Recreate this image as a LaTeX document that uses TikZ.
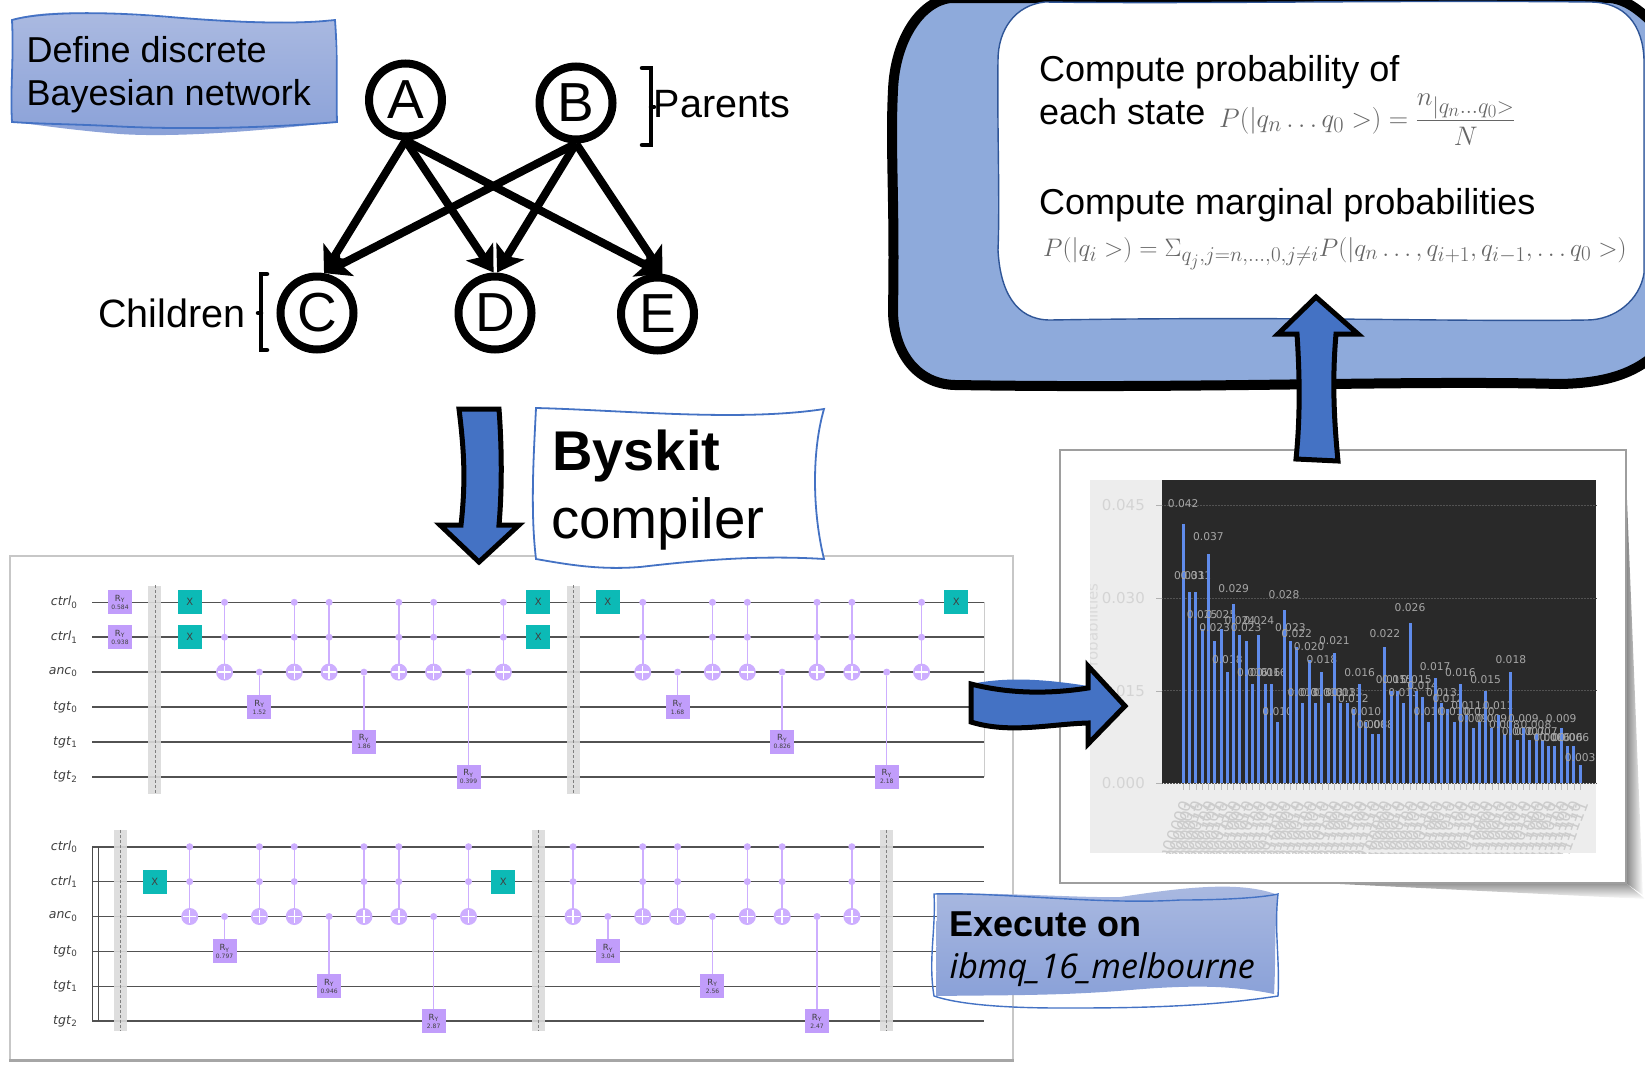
\documentclass[tikz,border=0pt]{standalone}
\usepackage{fontspec}
\usetikzlibrary{arrows.meta}
\newfontfamily\pptfont{Liberation Sans}
\newfontfamily\pltfont{DejaVu Sans}
\newfontfamily\ibmfont{Open Sans}
\definecolor{boxtop}{HTML}{ABBAE1}
\definecolor{boxbot}{HTML}{8AA1D8}
\definecolor{boxline}{HTML}{4472C4}
\definecolor{panelblue}{HTML}{8EAADB}
\definecolor{innerline}{HTML}{2F5597}
\definecolor{arrowblue}{HTML}{4472C4}
\definecolor{gatepurple}{HTML}{C19DFB}
\definecolor{ctrlpurple}{HTML}{CDAEFF}
\definecolor{gateteal}{HTML}{0CBAB6}
\definecolor{barblue}{HTML}{5F8BEA}
\tikzset{
    bnnode/.style={circle,draw,fill=white,line width=8pt,minimum size=73pt,inner sep=0pt,font=\pptfont\fontsize{55}{55}\selectfont},
    bnedge/.style={line width=8pt,-{Stealth[length=25pt,width=32pt,inset=6pt]}},
    brack/.style={line width=4.5pt,line cap=round},
    sans/.style={inner sep=0pt,anchor=base west,font=\pptfont\fontsize{#1}{#1}\selectfont},
    wavy/.style={draw=boxline,line width=1.8pt},
    blockarrow/.style={draw=black,line width=5pt,fill=arrowblue,miter limit=4},
    formula/.style={inner sep=0pt,anchor=base west,text=black!60,font=\fontsize{#1}{#1}\selectfont},
    wire/.style={draw=black!68,line width=1.6pt},
    wirelabel/.style={anchor=east,inner xsep=14.5pt,inner ysep=0pt,text=black!75,font=\pltfont\fontsize{12.5}{12.5}\selectfont},
    barrier/.style={rectangle,fill=black!14,fill opacity=.9,minimum width=13pt,inner sep=0pt},
    rygate/.style={rectangle,fill=gatepurple,minimum width=24pt,minimum height=24pt,inner sep=0pt,align=center,text=black!75,font=\pltfont\fontsize{8.5}{9}\selectfont},
    xgate/.style={rectangle,fill=gateteal,minimum width=24pt,minimum height=24pt,inner sep=0pt,text=black!75,font=\pltfont\fontsize{10}{10}\selectfont},
    dotgate/.style={circle,fill=ctrlpurple,minimum size=7pt,inner sep=0pt},
    cxgate/.style={circle,fill=ctrlpurple,minimum size=17pt,inner sep=0pt,path picture={
        \draw[white,line width=1.4pt] ([yshift=-2pt]path picture bounding box.north)--([yshift=2pt]path picture bounding box.south);
        \draw[white,line width=1.4pt] ([xshift=2pt]path picture bounding box.west)--([xshift=-2pt]path picture bounding box.east);}},
    ctrl/.style={draw=ctrlpurple,line width=1.5pt},
    barlabel/.style={inner sep=0pt,text=black!35,font=\pltfont\fontsize{10.7}{11}\selectfont},
    ticklabel/.style={anchor=east,inner sep=0pt,text=black!17,font=\pltfont\fontsize{15}{15}\selectfont}
}
\newcommand{\ccxat}[1]{
    \draw[ctrl] (#1,0)--(#1,2);
    \node[dotgate] (p#1) at (#1,0) {};
    \node[dotgate] (q#1) at (#1,1) {};
    \node[cxgate] (r#1) at (#1,2) {};
}
\newcommand{\rytext}[1]{R\textsubscript{Y}\\[-1pt]{\fontsize{6}{6}\selectfont #1}}
\newcommand{\ryat}[3]{
    \node[dotgate] (s#1) at (#1,2) {};
    \node[rygate] (t#1) at (#1,#2) {\rytext{#3}};
    \draw[ctrl] (s#1) -- (t#1);
}
\newcommand{\barrierat}[3]{
    \node[barrier,minimum height=#3pt] (b#1) at (#1,#2) {};
    \draw[black!50,densely dashed,line width=.7pt] (b#1.north) -- (b#1.south);
}
\newcommand{\wiresat}{
    \foreach \w/\t/\s in {0/ctrl/0,1/ctrl/1,2/anc/0,3/tgt/0,4/tgt/1,5/tgt/2}{
        \node[wirelabel] (l\w) at (-0.8,\w) {\textit{\t}\textsubscript{\s}};
        \coordinate (e\w) at (24.8,\w);
        \draw[wire] (l\w.east) -- (e\w);
    }
}
\def\stripbit#1#2\relax{#2}

\begin{document}
\begin{tikzpicture}[x=1pt,y=-1pt]
    \useasboundingbox (0,0) rectangle (1645,1071);

    % network
    \shade[top color=boxtop,bottom color=boxbot] (12,20) .. controls (40,10) and (80,12) .. (130,15) .. controls (200,20) and (280,24) .. (335,21) -- (337,122) .. controls (270,130) and (180,138) .. (120,134) .. controls (70,130) and (40,125) .. (12,122) -- cycle;
    \draw[wavy] (12,20) .. controls (40,12) and (100,11) .. (170,17) .. controls (230,22) and (290,25) .. (335,20) .. controls (338,60) and (336,90) .. (337,122) .. controls (270,128) and (180,130) .. (110,126) .. controls (70,124) and (40,124) .. (12,122) .. controls (10,90) and (14,60) .. (12,20) -- cycle;
    \node[sans=36] (define1) at (26.5,62.5) {Define discrete};
    \node[sans=36] (define2) at (26.5,105.5) {Bayesian network};

    \node[bnnode] (A) at (405.5,100) {A};
    \node[bnnode] (B) at (576,103) {B};
    \node[bnnode] (C) at (317,313) {C};
    \node[bnnode] (D) at (495,313) {D};
    \node[bnnode] (E) at (657.5,314) {E};
    \foreach \p/\d in {A/92,B/87}{
        \foreach \c in {C.80,D.\d,E.83}{
            \draw[bnedge] (\p.south) -- (\c);
        }
    }
    \draw[brack] (642,68)--(651,68)--(651,145)--(642,145);
    \draw[brack] (651,107)--(654,107);
    \draw[brack] (267,274)--(261,274)--(261,350)--(267,350);
    \draw[brack] (261,313)--(258,313);
    \node[sans=39.5] (parents) at (653.5,117) {Parents};
    \node[sans=39.5] (children) at (98,327) {Children};

    % circuit
    \fill[white] (10,556) rectangle (1013,1060);
    \draw[black!22,line width=2pt] (10,1060)--(10,556)--(1013,556)--(1013,1060);
    \draw[black!35,line width=3pt] (9,1060)--(1014,1060);

    \begin{scope}[shift={(120,602.3)},x=34.85pt,y=-34.9pt,name prefix=top-]
        \wiresat
        \draw[black!20,line width=.7pt] (e0) -- (e5);
        \barrierat{1}{2.5}{208}
        \barrierat{13}{2.5}{208}
        \node[rygate] (g0) at (0,0) {\rytext{0.584}};
        \node[rygate] (g1) at (0,1) {\rytext{0.938}};
        \foreach \k/\w in {2/0,2/1,12/0,12/1,14/0,24/0}{
            \node[xgate] (x\k\w) at (\k,\w) {X};
        }
        \foreach \k in {3,5,6,8,9,11,15,17,18,20,21,23}{
            \ccxat{\k}
        }
        \foreach \k/\w/\v in {4/3/1.52,7/4/1.86,10/5/0.399,16/3/1.68,19/4/0.826,22/5/2.18}{
            \ryat{\k}{\w}{\v}
        }
    \end{scope}

    \begin{scope}[shift={(120,846.7)},x=34.85pt,y=-34.9pt,name prefix=bot-]
        \wiresat
        \draw[black!70,line width=1.2pt] (l0.east) -- (l5.east);
        \draw[black!70,line width=1.2pt] ([xshift=6.5pt]l0.east) -- ([xshift=6.5pt]l5.east);
        \barrierat{0}{2.4}{201}
        \barrierat{12}{2.4}{201}
        \barrierat{22}{2.4}{201}
        \foreach \k in {1,11}{
            \node[xgate] (x\k) at (\k,1) {X};
        }
        \foreach \k in {2,4,5,7,8,10,13,15,16,18,19,21}{
            \ccxat{\k}
        }
        \foreach \k/\w/\v in {3/3/0.797,6/4/0.946,9/5/2.87,14/3/3.04,17/4/2.56,20/5/2.47}{
            \ryat{\k}{\w}{\v}
        }
    \end{scope}

    % results
    \shade[left color=black!45,right color=white] (1627,500)--(1643,895)--(1627,884)--cycle;
    \shade[top color=black!40,bottom color=white] (1340,884)--(1627,884)--(1645,899)--cycle;
    \draw[black!38,fill=white,line width=2.5pt] (1060,450) rectangle (1626,883);
    \fill[black!7] (1090,480) rectangle (1596,853);
    \fill[black!84] (1162,480) rectangle (1596,783.3);
    \begin{scope}
        \clip (1090,480) rectangle (1110,853);
        \node[rotate=90,inner sep=0pt,anchor=east,text=black!15,font=\pltfont\fontsize{15}{15}\selectfont] (ylab) at (1092,583) {Probabilities};
    \end{scope}
    \foreach \y/\t [count=\n] in {505/0.045,598.3/0.030,690.7/0.015,783.3/0.000}{
        \node[ticklabel] (tick\n) at (1145,\y) {\t};
        \coordinate (grid\n) at (1596,\y);
        \draw[black!30] (1156,\y) -- (1162,\y);
        \draw[black!68,densely dotted,line width=.5pt] (1162,\y) -- (grid\n);
    }
    \begin{scope}
        \clip (1162,480) rectangle (1596,853);
        \foreach \v [count=\i from 0] in {0.042,0.031,0.031,0.025,0.037,0.023,0.025,0.018,0.029,0.024,0.023,0.016,0.024,0.016,0.016,0.010,0.028,0.023,0.022,0.013,0.020,0.013,0.018,0.013,0.021,0.013,0.013,0.012,0.016,0.010,0.008,0.008,0.022,0.015,0.015,0.013,0.026,0.015,0.014,0.010,0.017,0.013,0.012,0.010,0.016,0.011,0.009,0.010,0.015,0.009,0.011,0.008,0.018,0.007,0.009,0.007,0.008,0.007,0.006,0.006,0.009,0.006,0.006,0.003}{
            \pgfmathsetmacro\barx{1183.2+6.3*\i}
            \pgfmathsetmacro\bartop{783.3-6184*\v}
            \pgfmathsetmacro\labgap{6.5+309*\v}
            \fill[barblue] ({\barx-1.5},783.3) rectangle ({\barx+1.5},\bartop);
            \draw[black!25,line width=.6pt] (\barx,784) -- (\barx,790);
            \node[barlabel] (val\i) at (\barx,{\bartop-\labgap}) {\v};
            \pgfmathbin{\i+64}
            \edef\bitstr{\expandafter\stripbit\pgfmathresult\relax}
            \node[rotate=70,anchor=east,inner sep=0pt,text=black!20,font=\pltfont\fontsize{16.5}{16.5}\selectfont] (bits\i) at ({\barx+3},801) {\bitstr};
        }
    \end{scope}

    % marginals
    \draw[line width=10pt,fill=panelblue] (1665,345) .. controls (1640,372) and (1610,383) .. (1560,384) .. controls (1400,380) and (1200,389) .. (955,385) .. controls (915,384) and (893,350) .. (893,310) .. controls (895,200) and (890,150) .. (893,90) .. controls (895,40) and (920,2) .. (950,-2) -- (1610,-2) .. controls (1630,0) and (1645,15) .. (1665,35) -- cycle;
    \draw[innerline,fill=white,line width=1.4pt] (1045,2) .. controls (1200,4) and (1400,0) .. (1590,2) .. controls (1625,2) and (1643,25) .. (1644,60) -- (1644,273) .. controls (1640,300) and (1615,320) .. (1587,320) .. controls (1450,322) and (1300,316) .. (1050,320) .. controls (1015,320) and (1000,290) .. (998,250) .. controls (1000,200) and (997,120) .. (998,60) .. controls (998,30) and (1015,5) .. (1045,2) -- cycle;
    \node[sans=36] (state1) at (1039,81) {Compute probability of};
    \node[sans=36] (state2) at (1039,124) {each state};
    \node[sans=36] (marg) at (1039,214) {Compute marginal probabilities};
    \node[formula=24.88,scale=1.077] (eqstate) at (1219,127) {$\displaystyle P(|q_n\ldots q_0>)=\frac{n_{|q_n\ldots q_0>}}{N}$};
    \node[formula=24.88,scale=1.017] (eqmarg) at (1043,256) {$P(|q_i>)=\Sigma_{q_j,j=n,\ldots,0,j\neq i}P(|q_n\ldots,q_{i+1},q_{i-1},\ldots q_0>)$};

    % labels and block arrows
    \draw[wavy,fill=white] (536,408) .. controls (620,410) and (740,422) .. (824,409) .. controls (812,450) and (812,510) .. (824,559) .. controls (760,555) and (700,560) .. (640,567) .. controls (600,570) and (570,565) .. (536,559) .. controls (530,510) and (534,450) .. (536,408) -- cycle;
    \node[sans=56,font=\pptfont\bfseries\fontsize{56}{56}\selectfont] (byskit) at (552,470) {Byskit};
    \node[sans=56.5] (compiler) at (551,538.5) {compiler};

    \draw[blockarrow] (459,409) -- (499,409) .. controls (502,450) and (502,490) .. (499,525) -- (519,525) -- (479,562) -- (440,525) -- (461,525) .. controls (466,480) and (464,450) .. (459,409) -- cycle;
    \draw[blockarrow] (1316,297) -- (1358,334) -- (1336,334) .. controls (1332,380) and (1334,420) .. (1338,461) -- (1296,459) .. controls (1300,420) and (1300,380) .. (1297,334) -- (1278,334) -- cycle;
    \fill[arrowblue] (971,684) .. controls (1010,676) and (1050,680) .. (1088,686) -- (1088,692) -- (971,690) -- cycle;
    \draw[blockarrow] (971,684) .. controls (1010,694) and (1050,694) .. (1088,688) -- (1088,666) -- (1125,706) -- (1088,744) -- (1088,723) .. controls (1050,724) and (1010,734) .. (971,722) -- cycle;

    \shade[top color=boxtop,bottom color=boxbot] (937,894) .. controls (1000,892) and (1080,898) .. (1120,897) .. controls (1180,888) and (1240,880) .. (1278,895) .. controls (1274,930) and (1276,960) .. (1274,994) .. controls (1230,985) and (1190,985) .. (1130,990) .. controls (1060,996) and (1000,995) .. (936,996) -- cycle;
    \draw[wavy,line width=1.4pt] (934,894) .. controls (1000,892) and (1100,905) .. (1180,900) .. controls (1220,900) and (1260,898) .. (1278,894) .. controls (1274,930) and (1280,960) .. (1278,996) .. controls (1200,1008) and (1120,1008) .. (1060,1008) .. controls (1010,1008) and (960,1005) .. (934,996) .. controls (928,960) and (936,930) .. (934,894) -- cycle;
    \node[sans=36,font=\pptfont\bfseries\fontsize{36}{36}\selectfont] (execute) at (949.5,936) {Execute on};
    \node[sans=34,font=\ibmfont\itshape\fontsize{34}{34}\selectfont] (device) at (949.5,978.5) {ibmq\_16\_melbourne};
\end{tikzpicture}
\end{document}
